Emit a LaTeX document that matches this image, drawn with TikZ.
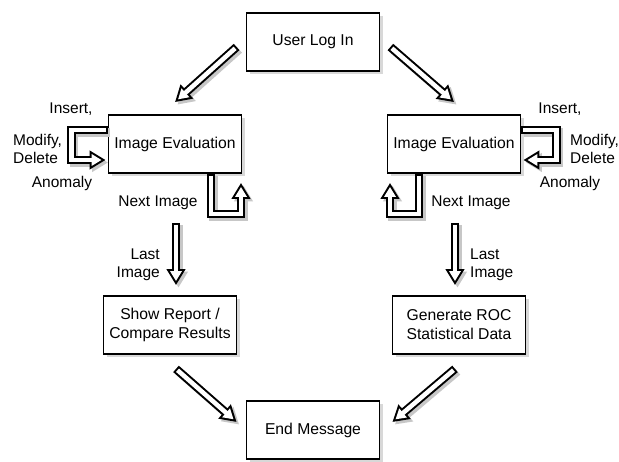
\documentclass[tikz,border=0pt]{standalone}
\usepackage{fontspec}
\setmainfont{Liberation Sans}
\usetikzlibrary{arrows.meta,shadows}
\tikzset{
  box/.style={draw, line width=1.8pt, fill=white, minimum width=133pt, minimum height=58pt,
    align=center, font=\fontsize{15.7}{19}\selectfont,
    drop shadow={shadow xshift=3.5pt, shadow yshift=-3.5pt, fill=black!30}},
  lbl/.style={font=\fontsize{15.5}{18}\selectfont, inner sep=0pt},
  hollow/.style={line width=8.5pt, -{Triangle[width=18pt,length=16pt]},
    preaction={draw=black!22, line width=8.5pt, -{Triangle[width=18pt,length=16pt]},
      transform canvas={shift={(2.5pt,-2.5pt)}}},
    postaction={draw=white, line width=4.5pt, shorten <=2pt, shorten >=4.07pt,
      -{Triangle[width=11.2pt,length=9.9pt]}}}
}
\begin{document}
\begin{tikzpicture}[x=1pt,y=-1pt]
\useasboundingbox (0,0) rectangle (619,462);
% Boxes
\node[box] (user) at (313,42) {User Log In};
\node[box] (eval1) at (175,144) {Image Evaluation};
\node[box] (eval2) at (454,144) {Image Evaluation};
\node[box] (report) at (170,325) {Show Report /\\Compare Results};
\node[box] (roc) at (459,325) {Generate ROC\\Statistical Data};
\node[box] (end) at (313,430) {End Message};
% Arrows from and to the ends
\draw[hollow] ([xshift=-9pt,yshift=-5pt]user.west) -- ([yshift=12pt]eval1.north);
\draw[hollow] ([xshift=10pt,yshift=-5pt]user.east) -- ([yshift=12pt]eval2.north);
\draw[hollow] ([xshift=6pt,yshift=-14pt]report.south) -- ([xshift=-9pt,yshift=8pt]end.west);
\draw[hollow] ([xshift=-4pt,yshift=-14pt]roc.south) -- ([xshift=12pt,yshift=8pt]end.east);
% Anomaly loops
\draw[hollow] ([yshift=14pt]eval1.west) -- ++(-36,0) -- ++(0,30) -- ([xshift=-2pt,yshift=-16pt]eval1.west);
\draw[hollow] ([yshift=14pt]eval2.east) -- ++(35,0) -- ++(0,30) -- ([xshift=2pt,yshift=-16pt]eval2.east);
% Next image loops
\draw[hollow] ([xshift=36pt]eval1.south) -- ++(0,40) -- ++(30,0) -- ([xshift=66pt,yshift=-9pt]eval1.south);
\draw[hollow] ([xshift=-35pt]eval2.south) -- ++(0,40) -- ++(-29,0) -- ([xshift=-64pt,yshift=-9pt]eval2.south);
% Last image
\draw[hollow] ([xshift=1pt,yshift=-49pt]eval1.south) -- ([xshift=6pt,yshift=10pt]report.north);
\draw[hollow] ([xshift=1pt,yshift=-49pt]eval2.south) -- ([xshift=-4pt,yshift=10pt]roc.north);
% Labels on the left
\node[lbl] at (71,109) {Insert,};
\node[lbl, anchor=west, align=left] at (13,149) {Modify,\\Delete};
\node[lbl] at (62,183) {Anomaly};
\node[lbl] at (158,203) {Next Image};
\node[lbl, anchor=east, align=right] at (160,265) {Last\\Image};
% Labels on the right
\node[lbl] at (560,109) {Insert,};
\node[lbl, anchor=west, align=left] at (570,149) {Modify,\\Delete};
\node[lbl] at (570,183) {Anomaly};
\node[lbl] at (471,203) {Next Image};
\node[lbl, anchor=west, align=left] at (470,265) {Last\\Image};
\end{tikzpicture}
\end{document}
